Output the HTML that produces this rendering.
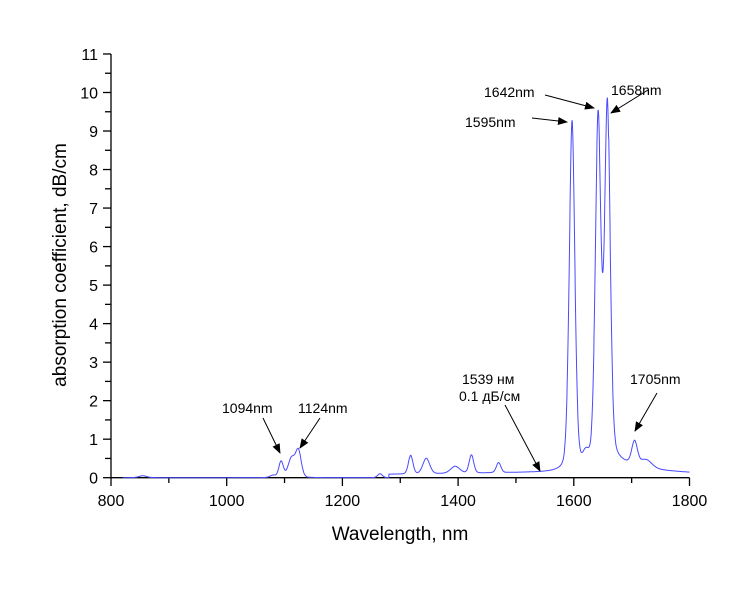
<!DOCTYPE html>
<html><head><meta charset="utf-8"><style>
body{margin:0;background:#fff}
svg{display:block;font-family:"Liberation Sans",Arial,sans-serif}
</style></head><body>
<svg id="s" width="750" height="592" viewBox="0 0 750 592">
<defs><marker id="a" markerWidth="10" markerHeight="8" refX="9" refY="4" orient="auto" markerUnits="userSpaceOnUse"><path d="M0,0 L10,4 L0,8 z" fill="#000"/></marker></defs>
<g id="ax" stroke="#000" stroke-width="1.3" fill="none"></g>
<g id="tl" font-size="16" fill="#000"></g>
<path id="sp" fill="none" stroke="#4a4aff" stroke-width="1"/>
<text x="400" y="540" font-size="19" text-anchor="middle">Wavelength, nm</text>
<text transform="translate(66,265) rotate(-90)" font-size="19" text-anchor="middle">absorption coefficient, dB/cm</text>
<g font-size="14">
<text x="465" y="127">1595nm</text>
<text x="484" y="97">1642nm</text>
<text x="611" y="95">1658nm</text>
<text x="462" y="384">1539 нм</text>
<text x="459" y="401">0.1 дБ/см</text>
<text x="630" y="384">1705nm</text>
<text x="222" y="413">1094nm</text>
<text x="298" y="413">1124nm</text>
</g>
<g stroke="#000" stroke-width="1" marker-end="url(#a)">
<line x1="532" y1="118" x2="567" y2="122"/>
<line x1="545" y1="95" x2="594" y2="108"/>
<line x1="648" y1="90" x2="611" y2="113"/>
<line x1="505" y1="405" x2="540" y2="471"/>
<line x1="657" y1="393" x2="635" y2="431"/>
<line x1="263" y1="418" x2="280" y2="453"/>
<line x1="320" y1="418" x2="300" y2="448"/>
</g>
</svg>
<script>
var X=w=>111+(w-800)*0.5785, Y=v=>477.7-v*38.52;
var ax=document.getElementById('ax'),tl=document.getElementById('tl'),h='',t='';
h+='<path d="M111,'+Y(11)+' V477.7 H689.5"/>';
for(var i=0;i<=22;i++){var y=Y(i/2);h+='<line x1="111" x2="'+(i%2?105:103)+'" y1="'+y+'" y2="'+y+'"/>';if(i%2==0)t+='<text x="98" y="'+(y+6)+'" text-anchor="end">'+(i/2)+'</text>';}
for(var w=800;w<=1800;w+=100){var x=X(w);h+='<line y1="477.7" y2="'+(w%200?483:486)+'" x1="'+x+'" x2="'+x+'"/>';if(w%200==0)t+='<text x="'+x+'" y="506" text-anchor="middle">'+w+'</text>';}
ax.innerHTML=h;tl.innerHTML=t;
var P=[[855,0.05,7,.85],[1080,0.06,5,.85],[1094,0.42,4,.85],[1112,0.5,6,.85],[1124,0.68,5,.85],[1265,0.1,4,.85],[1318,0.48,4,.85],[1345,0.4,6,.85],[1395,0.18,8,.85],[1423,0.47,4,.85],[1470,0.26,4,.85],[1597,9.1,5,.7],[1621,0.35,6,.85],[1642,9.1,5,.7],[1658,9.45,5,.7],[1705,0.6,5,.8],[1725,0.2,10,.85]];
function f(w){var v=0;if(w>1280)v+=0.08+0.05*Math.exp(-Math.pow((w-1540)/200,2));if(w>1660)v+=0.35*Math.exp(-(w-1660)/70);
for(var p of P){var d=(w-p[0])/p[2];v+=p[1]*(p[3]*Math.exp(-d*d/2)+(1-p[3])/(1+d*d));}return v;}
var d='';for(var w=820;w<=1800;w+=0.5){d+=(d?'L':'M')+X(w).toFixed(1)+','+Y(f(w)).toFixed(1);}
document.getElementById('sp').setAttribute('d',d);
</script>
</body></html>
